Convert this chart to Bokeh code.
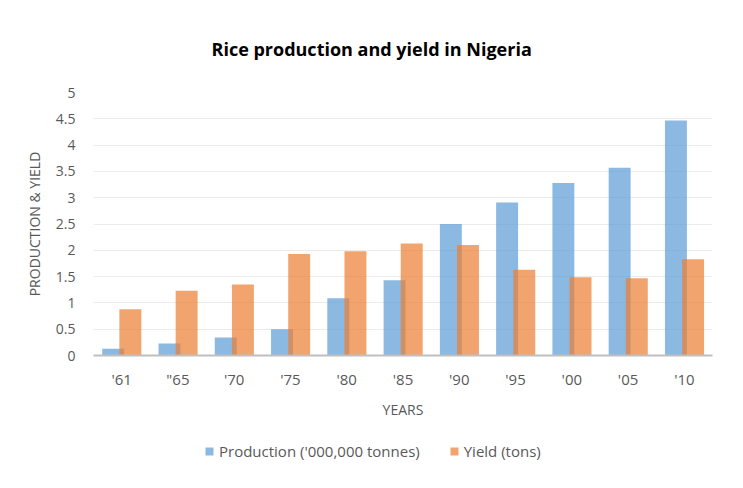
from bokeh.plotting import figure
from bokeh.layouts import column
from bokeh.models import (FactorRange, Range1d, FixedTicker, Legend, LegendItem,
                          Title, ColumnDataSource)
from bokeh.transform import dodge
from bokeh.embed import file_html
from bokeh.resources import INLINE

years = ["'61", '"65', "'70", "'75", "'80", "'85", "'90", "'95", "'00", "'05", "'10"]
production = [0.13, 0.23, 0.34, 0.50, 1.09, 1.43, 2.50, 2.91, 3.28, 3.57, 4.47]
yield_tons = [0.88, 1.23, 1.35, 1.93, 1.98, 2.13, 2.10, 1.63, 1.49, 1.47, 1.83]
y_ticks = [0, 0.5, 1, 1.5, 2, 2.5, 3, 3.5, 4, 4.5, 5]
y_tick_labels = ["0", "0.5", "1", "1.5", "2", "2.5", "3", "3.5", "4", "4.5", "5"]
series_names = ["Production ('000,000 tonnes)", "Yield (tons)"]

FONT = "Open Sans"
GREY = "#595959"
BLUE = "#5B9BD5"
ORANGE = "#ED7D31"

src = ColumnDataSource(dict(years=years, production=production, yield_tons=yield_tons))

p = figure(width=743, height=430, x_range=FactorRange(*years, range_padding=0),
           y_range=Range1d(0, 5), output_backend="svg", toolbar_location=None,
           min_border_left=93, min_border_right=31, min_border_top=92,
           min_border_bottom=75)

p.title = Title(text="Rice production and yield in Nigeria", align="left",
                text_font=FONT, text_font_size="18px", text_font_style="bold",
                text_color="#000000", offset=118, standoff=64)

p.vbar(x=dodge("years", -0.15, range=p.x_range), top="production", width=0.39,
       source=src, fill_color=BLUE, fill_alpha=0.7, line_color=None)
p.vbar(x=dodge("years", 0.155, range=p.x_range), top="yield_tons", width=0.39,
       source=src, fill_color=ORANGE, fill_alpha=0.7, line_color=None)

p.outline_line_color = None
p.xgrid.grid_line_color = None
p.ygrid.grid_line_color = "#EBEBEB"
p.ygrid.grid_line_width = 1

p.yaxis.ticker = FixedTicker(ticks=y_ticks)
p.yaxis.major_label_overrides = dict(zip(y_ticks, y_tick_labels))
p.yaxis.axis_line_color = None
p.yaxis.major_tick_line_color = None
p.yaxis.minor_tick_line_color = None
p.yaxis.major_tick_out = 0
p.yaxis.major_label_standoff = 18
p.yaxis.axis_label = "PRODUCTION & YIELD"
p.yaxis.axis_label_standoff = 9
p.yaxis.major_label_text_font_size = "14px"

p.xaxis.axis_line_color = "#BFBFBF"
p.xaxis.axis_line_width = 2
p.xaxis.major_tick_line_color = None
p.xaxis.minor_tick_line_color = None
p.xaxis.major_tick_out = 0
p.xaxis.major_label_standoff = 13
p.xaxis.axis_label = "YEARS"
p.xaxis.axis_label_standoff = 8
p.xaxis.major_label_text_font_size = "15px"

for ax in (p.xaxis, p.yaxis):
    ax.major_label_text_font = FONT
    ax.major_label_text_color = GREY
    ax.axis_label_text_font = FONT
    ax.axis_label_text_font_size = "14px"
    ax.axis_label_text_font_style = "normal"
    ax.axis_label_text_color = GREY

# legend strip below the chart (its frame lines up with the chart's frame)
lg = figure(width=743, height=58, output_backend="svg", toolbar_location=None,
            x_axis_location=None, y_axis_location=None, min_border=0,
            x_range=Range1d(0, 1), y_range=Range1d(0, 1))
lg.outline_line_color = None
lg.grid.grid_line_color = None
lr1 = lg.vbar(x=[0], top=[0], width=0, fill_color=BLUE, fill_alpha=0.7, line_color=None)
lr2 = lg.vbar(x=[0], top=[0], width=0, fill_color=ORANGE, fill_alpha=0.7, line_color=None)
legend = Legend(items=[LegendItem(label=series_names[0], renderers=[lr1]),
                       LegendItem(label=series_names[1], renderers=[lr2])],
                orientation="horizontal", location=(111, 27),
                glyph_width=10, glyph_height=10, label_standoff=5, spacing=29,
                padding=0, margin=0, background_fill_alpha=0, border_line_color=None,
                label_text_font=FONT, label_text_font_size="15px", label_text_color=GREY,
                label_height=20)
lg.add_layout(legend, "center")

layout = column(p, lg, spacing=0)

open("out.html", "w").write(file_html(layout, INLINE))
